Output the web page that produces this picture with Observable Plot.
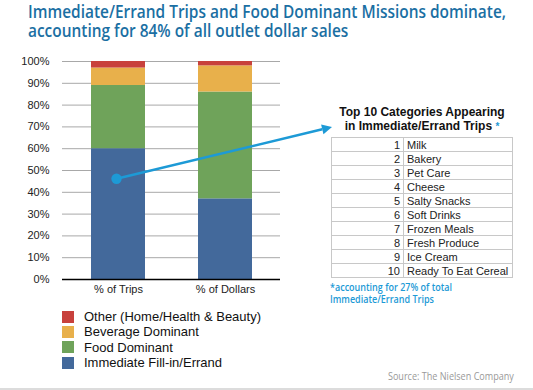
<!DOCTYPE html>
<html>
<head>
<meta charset="utf-8">
<script src="https://cdn.jsdelivr.net/npm/d3@7"></script>
<script src="https://cdn.jsdelivr.net/npm/@observablehq/plot@0.6"></script>
<style>
  html, body { margin: 0; padding: 0; background: #fff; }
  #wrap { position: relative; width: 533px; height: 390px; overflow: hidden; background: #fff; }
  #title { position: absolute; left: 28px; top: 2px; font-family: "Open Sans", sans-serif; font-weight: 600; font-size: 17.5px; line-height: 19px; color: #1b6fa3; white-space: nowrap; transform-origin: left top; }
  #chart { position: absolute; left: 0; top: 0; }
  #tblTitle { position: absolute; left: 331px; width: 182px; top: 105px; text-align: center; font-family: "Liberation Sans", Arial, sans-serif; font-weight: bold; font-size: 12px; line-height: 14px; color: #111; white-space: nowrap; }
  #tblTitle .star { color: #1d9ad6; font-size: 10px; }
  table#top10 { position: absolute; left: 331px; top: 137px; width: 182px; border-collapse: collapse; font-family: "Liberation Sans", Arial, sans-serif; font-size: 11px; color: #222; }
  #top10 td { border: 1px solid #c8c8c8; height: 13px; padding: 0 3px; line-height: 12px; }
  #top10 td.n { width: 65px; text-align: right; }
  #foot { position: absolute; left: 330px; top: 282px; font-family: "Open Sans", sans-serif; font-weight: 600; font-size: 10px; line-height: 11.5px; color: #1d9ad6; white-space: nowrap; transform-origin: left top; }
  #legend { position: absolute; left: 62px; top: 309px; font-family: "Liberation Sans", Arial, sans-serif; font-size: 13px; color: #111; }
  #legend .row { height: 15.3px; display: flex; align-items: center; }
  #legend .sw { width: 12px; height: 12px; margin-right: 10px; }
  #source { position: absolute; right: 19px; top: 369px; font-family: "Open Sans", sans-serif; font-size: 10px; color: #999; white-space: nowrap; transform-origin: right top; }
  #bottomBar { position: absolute; left: 0; top: 388px; width: 533px; height: 2px; background: #dcdcdc; }
</style>
</head>
<body>
<div id="wrap">
  <div id="title"></div>
  <div id="chart"></div>
  <div id="tblTitle"></div>
  <table id="top10"></table>
  <div id="foot"></div>
  <div id="legend"></div>
  <div id="source"></div>
  <div id="bottomBar"></div>
</div>
<script>
// ---- data ----
const titleLines = ["Immediate/Errand Trips and Food Dominant Missions dominate,", "accounting for 84% of all outlet dollar sales"];
const categories = ["% of Trips", "% of Dollars"];
const segments = ["Immediate Fill-in/Errand", "Food Dominant", "Beverage Dominant", "Other (Home/Health & Beauty)"];
const tripsValues = [60, 29, 8, 3];
const dollarsValues = [37, 49, 12, 2];
const segmentColors = ["#43699b", "#6fa35a", "#e8b04b", "#c8413c"];
const yTicks = [0, 10, 20, 30, 40, 50, 60, 70, 80, 90, 100];
const calloutCategory = "% of Trips";
const calloutValue = 46;
const tableTitle = ["Top 10 Categories Appearing", "in Immediate/Errand Trips"];
const topRanks = [1, 2, 3, 4, 5, 6, 7, 8, 9, 10];
const topCategories = ["Milk", "Bakery", "Pet Care", "Cheese", "Salty Snacks", "Soft Drinks", "Frozen Meals", "Fresh Produce", "Ice Cream", "Ready To Eat Cereal"];
const footnoteLines = ["*accounting for 27% of total", "Immediate/Errand Trips"];
const sourceText = "Source: The Nielsen Company";

// ---- build ----
document.getElementById("title").innerHTML = titleLines.join("<br>");

const rows = [];
categories.forEach((c, ci) => {
  const vals = ci === 0 ? tripsValues : dollarsValues;
  segments.forEach((s, si) => rows.push({category: c, segment: s, value: vals[si]}));
});

const accent = "#1d9ad6";
// connector endpoint: left edge of table, at the table title's 2nd line
const tableLeft = 331, tableTitleY = 127;

const connector = (index, scales, values, dimensions) => {
  const bw = typeof scales.x.bandwidth === "function" ? scales.x.bandwidth() : 0;
  const x1 = scales.x(calloutCategory) + bw / 2 - 1.5;
  const y1 = scales.y(calloutValue);
  const x2 = tableLeft + 1, y2 = tableTitleY;
  const ang = Math.atan2(y2 - y1, x2 - x1);
  const L = 10, W = 5;
  const bx = x2 - L * Math.cos(ang), by = y2 - L * Math.sin(ang);
  const g = d3.create("svg:g");
  g.append("line").attr("x1", x1).attr("y1", y1).attr("x2", bx).attr("y2", by)
    .attr("stroke", accent).attr("stroke-width", 2.5);
  g.append("path")
    .attr("d", `M${x2},${y2}L${bx - W * Math.sin(ang)},${by + W * Math.cos(ang)}L${bx + W * Math.sin(ang)},${by - W * Math.cos(ang)}Z`)
    .attr("fill", accent);
  g.append("circle").attr("cx", x1).attr("cy", y1).attr("r", 5.2).attr("fill", accent);
  return g.node();
};

const plot = Plot.plot({
  width: 533,
  height: 300,
  marginTop: 61,
  marginBottom: 21,
  marginLeft: 62,
  marginRight: 253,
  style: {fontFamily: "Liberation Sans, Arial, sans-serif", fontSize: "11px", color: "#222", background: "transparent", overflow: "visible"},
  x: {domain: categories, paddingInner: 0.5, paddingOuter: 0.26, label: null, tickSize: 0, tickPadding: 6},
  y: {domain: [0, 100], ticks: yTicks, tickFormat: d => d + "%", label: null, tickSize: 0, tickPadding: 13},
  color: {domain: segments, range: segmentColors},
  marks: [
    Plot.gridY(yTicks, {stroke: "#a8a8a8", strokeOpacity: 1, strokeWidth: 1}),
    Plot.barY(rows, {x: "category", y: "value", fill: "segment"}),
    Plot.ruleY([0], {stroke: "#000", strokeWidth: 1.5}),
    connector
  ]
});
document.getElementById("chart").appendChild(plot);

document.getElementById("tblTitle").innerHTML = tableTitle[0] + "<br>" + tableTitle[1] + ' <span class="star">*</span>';
const tbl = d3.select("#top10");
tbl.selectAll("tr").data(topCategories).join("tr").each(function(d, i) {
  d3.select(this).append("td").attr("class", "n").text(topRanks[i]);
  d3.select(this).append("td").text(d);
});
document.getElementById("foot").innerHTML = footnoteLines.join("<br>");

const legend = d3.select("#legend");
[3, 2, 1, 0].forEach(i => {
  const r = legend.append("div").attr("class", "row");
  r.append("div").attr("class", "sw").style("background", segmentColors[i]);
  r.append("span").text(segments[i]);
});
document.getElementById("source").textContent = sourceText;

// fit narrow humanist texts to the reference widths
function fitWidth(id, target) {
  const el = document.getElementById(id);
  const w = el.getBoundingClientRect().width;
  if (w > 0) el.style.transform = `scaleX(${target / w})`;
}
fitWidth("title", 478);
fitWidth("foot", 122);
fitWidth("source", 126);
</script>
</body>
</html>
